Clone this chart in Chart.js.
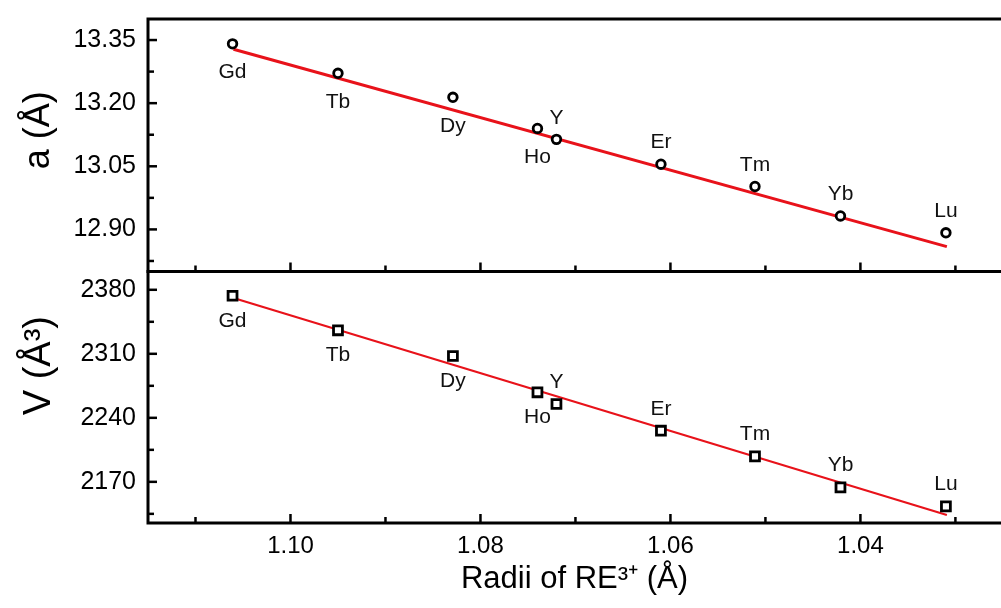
<!DOCTYPE html>
<html><head><meta charset="utf-8">
<script src="https://cdn.jsdelivr.net/npm/chart.js@4.4.1/dist/chart.umd.min.js"></script>
<style>
html,body{margin:0;padding:0;background:#fff;}
#wrap{position:relative;width:1001px;height:608px;overflow:hidden;background:#fff;}
.box{position:absolute;left:0;width:1001px;}
</style></head><body>
<div id="wrap">
<div class="box" style="top:260px;height:348px"><canvas id="cb"></canvas></div>
<div class="box" style="top:0;height:290px"><canvas id="ca"></canvas></div>
</div>
<script>
// ---- data ----
const elements = ['Gd','Tb','Dy','Ho','Y','Er','Tm','Yb','Lu'];
const radii    = [1.1061,1.0950,1.0829,1.0740,1.0720,1.0610,1.0511,1.0421,1.0310];
const latticeA = [13.341,13.271,13.214,13.140,13.114,13.055,13.002,12.932,12.892];
const volumeV  = [2373.5,2335.7,2307.6,2267.9,2255.1,2225.9,2197.9,2164.0,2143.2];
const fitRadii = [1.1060,1.0309];
const fitA     = [13.328,12.859];
const fitV     = [2371.0,2133.7];
const aTicks      = [12.90,13.05,13.20,13.35];
const aMinorTicks = [12.825,12.975,13.125,13.275];
const vTicks      = [2170,2240,2310,2380];
const vMinorTicks = [2135,2205,2275,2345];
const xTicks      = [1.10,1.08,1.06,1.04];
const xMinorTicks = [1.11,1.09,1.07,1.05,1.03];
const aboveLabels = ['Y','Er','Tm','Yb','Lu'];

Chart.defaults.font.family = "'Liberation Sans', Arial, sans-serif";
Chart.defaults.color = '#000';

const frameTicks = {
  id: 'frameTicks',
  afterDraw(chart, args, opts) {
    const {ctx, chartArea: a, scales} = chart;
    ctx.save();
    ctx.strokeStyle = '#000';
    ctx.lineWidth = 2.5;
    const ys = scales.y, xs = scales.x;
    const drawY = (vals, len) => vals.forEach(v => {
      const p = ys.getPixelForValue(v);
      if (p < a.top - 1 || p > a.bottom + 1) return;
      ctx.beginPath(); ctx.moveTo(a.left, p); ctx.lineTo(a.left + len, p); ctx.stroke();
    });
    const drawX = (vals, len) => vals.forEach(v => {
      const p = xs.getPixelForValue(v);
      if (p < a.left - 1 || p > a.right + 1) return;
      ctx.beginPath(); ctx.moveTo(p, a.bottom); ctx.lineTo(p, a.bottom - len); ctx.stroke();
    });
    drawY(opts.yMajor, 9); drawY(opts.yMinor, 6);
    drawX(xTicks, 9); drawX(xMinorTicks, 6);
    ctx.lineWidth = 3;
    ctx.beginPath();
    ctx.moveTo(a.right + 3, a.top); ctx.lineTo(a.left, a.top);
    ctx.lineTo(a.left, a.bottom); ctx.lineTo(a.right + 3, a.bottom);
    ctx.stroke();
    ctx.restore();
  }
};

const elementLabels = {
  id: 'elementLabels',
  afterDatasetsDraw(chart, args, opts) {
    const {ctx} = chart;
    const meta = chart.getDatasetMeta(0);
    ctx.save();
    ctx.font = "21px 'Liberation Sans', Arial, sans-serif";
    ctx.fillStyle = '#111';
    ctx.textAlign = 'center';
    ctx.textBaseline = 'middle';
    meta.data.forEach((pt, i) => {
      const name = elements[i];
      const dy = aboveLabels.includes(name) ? opts.above : opts.below;
      ctx.fillText(name, pt.x, pt.y + dy);
    });
    ctx.restore();
  }
};

const X_MIN = 1.0252, X_MAX = 1.115;

function pts(xs, ys) { return xs.map((x, i) => ({x, y: ys[i]})); }
function noPad(s) { s.paddingTop = 0; s.paddingBottom = 0; s.paddingLeft = 0; s.paddingRight = 0; }

function yScale(min, max, ticks, fmt, title, tsize) {
  return {
    type: 'linear', min, max,
    afterBuildTicks: s => { s.ticks = ticks.map(v => ({value: v})); },
    afterFit: s => { s.width = 148; noPad(s); },
    grid: {display: false, drawTicks: false},
    border: {display: false},
    ticks: {padding: 12, color: '#000', font: {size: 25}, callback: fmt},
    title: {display: true, text: title, color: '#000', font: {size: tsize}, padding: {top: 17, bottom: 0}}
  };
}

function datasets(yVals, fitVals, style, lw) {
  return [
    {data: pts(radii, yVals), showLine: false, pointStyle: style,
     pointRadius: style === 'rect' ? 6.3 : 4.3, borderColor: '#000', backgroundColor: '#fff', borderWidth: 2.8},
    {data: pts(fitRadii, fitVals), showLine: true, borderColor: '#e8121a', borderWidth: lw, pointRadius: 0}
  ];
}

new Chart(document.getElementById('ca'), {
  type: 'scatter',
  data: {datasets: datasets(latticeA, fitA, 'circle', 3)},
  options: {
    responsive: true, maintainAspectRatio: false, animation: false,
    layout: {autoPadding: false, padding: {top: 19, bottom: 18.5, left: 0, right: 0}},
    plugins: {legend: {display: false}, tooltip: {enabled: false},
      frameTicks: {yMajor: aTicks, yMinor: aMinorTicks},
      elementLabels: {below: 28.5, above: -21.5}},
    scales: {
      x: {type: 'linear', min: X_MIN, max: X_MAX, reverse: true, display: false,
        afterFit: s => { noPad(s); }},
      y: yScale(12.80, 13.40, aTicks, v => v.toFixed(2), '   a (Å)', 36)
    }
  },
  plugins: [frameTicks, elementLabels]
});

new Chart(document.getElementById('cb'), {
  type: 'scatter',
  data: {datasets: datasets(volumeV, fitV, 'rect', 2.2)},
  options: {
    responsive: true, maintainAspectRatio: false, animation: false,
    layout: {autoPadding: false, padding: {top: 11.5, bottom: 0, left: 0, right: 0}},
    plugins: {legend: {display: false}, tooltip: {enabled: false},
      frameTicks: {yMajor: vTicks, yMinor: vMinorTicks},
      elementLabels: {below: 25, above: -22}},
    scales: {
      x: {type: 'linear', min: X_MIN, max: X_MAX, reverse: true,
        afterBuildTicks: s => { s.ticks = xTicks.map(v => ({value: v})); },
        afterFit: s => { s.height = 85; noPad(s); },
        grid: {display: false, drawTicks: false},
        border: {display: false},
        ticks: {padding: 9, color: '#000', font: {size: 24}, maxRotation: 0, autoSkip: false, callback: v => v.toFixed(2)},
        title: {display: true, text: 'Radii of RE³⁺ (Å)', color: '#000', font: {size: 31}, padding: {top: 0, bottom: 10}}
      },
      y: yScale(2125, 2400, vTicks, v => String(v), '      V (Å³)', 38)
    }
  },
  plugins: [frameTicks, elementLabels]
});
</script>
</body></html>
